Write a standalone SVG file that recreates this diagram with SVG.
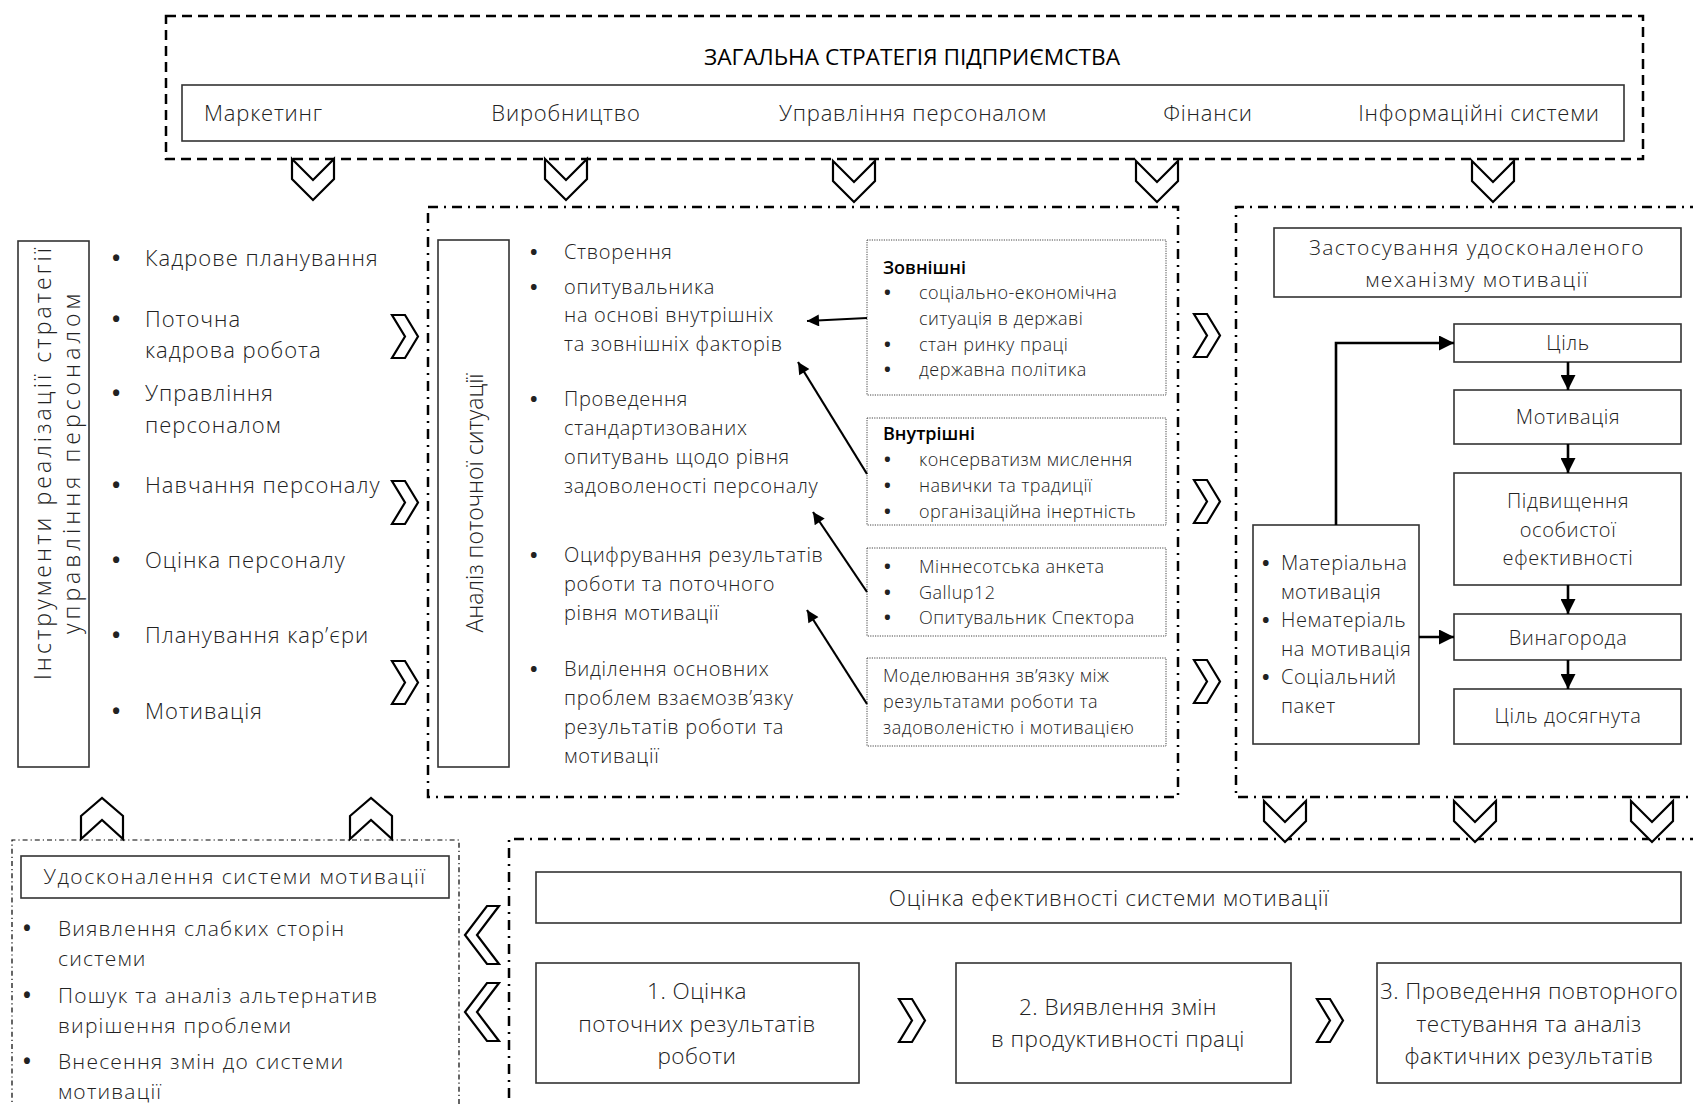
<svg xmlns="http://www.w3.org/2000/svg" width="1693" height="1104" viewBox="0 0 1693 1104">
<defs>
<style>
.f{font-family:"Open Sans","Noto Sans","DejaVu Sans",sans-serif;fill:#222;font-weight:300}
.k{fill:#000;font-weight:400}
.b{font-weight:700;letter-spacing:0}
.s22{font-size:22px}
.s21{font-size:21px}
.s20{font-size:20px}
.s17{font-size:18px}
.m{text-anchor:middle}
.box{fill:#fff;stroke:#333;stroke-width:1.6}
.dash{fill:none;stroke:#000;stroke-width:2.5;stroke-dasharray:10 6}
.dd{fill:none;stroke:#000;stroke-width:2.5;stroke-dasharray:10 6 2 6}
.dd2{fill:none;stroke:#000;stroke-width:1.2;stroke-dasharray:5 3 1.2 3}
.dot{fill:#fff;stroke:#444;stroke-width:1;stroke-dasharray:1.2 1.2}
.chev{fill:#fff;stroke:#000;stroke-width:2.2;stroke-linejoin:miter}
.ln{fill:none;stroke:#000;stroke-width:2.2}
.ln2{fill:none;stroke:#000;stroke-width:2.6}
</style>
<polygon id="cd" points="-21,0 0,21 21,0 21,20 0,41 -21,20"/>
<polygon id="cu" points="-21,18 0,0 21,18 21,41 0,22 -21,41"/>
<polygon id="cr" points="0,0 13,0 26,21.5 13,43 0,43 13,21.5"/>
<polygon id="cl" points="34,0 22,0 0,29 22,58 34,58 12,29"/>
<marker id="ah" viewBox="0 0 10 10" refX="10" refY="5" markerUnits="userSpaceOnUse" markerWidth="14" markerHeight="12" orient="auto">
<path d="M0,0 L10,5 L0,10 z" fill="#000"/>
</marker>
<marker id="ah2" viewBox="0 0 10 10" refX="10" refY="5" markerUnits="userSpaceOnUse" markerWidth="16" markerHeight="15" orient="auto">
<path d="M0,0 L10,5 L0,10 z" fill="#000"/>
</marker>
</defs>
<rect width="1693" height="1104" fill="#fff"/>

<!-- frames -->
<g id="frames">
<rect class="dash" x="166" y="16" width="1477" height="143"/>
<rect class="dd" x="428" y="207" width="750" height="590"/>
<path class="dd" d="M1700,207 H1236 V797 H1700"/>
<path class="dd" d="M1700,839 H509 V1110"/>
<path class="dd2" d="M12,1110 V840 H459 V1110"/>
</g>

<!-- top strategy -->
<g id="strategy">
<text class="f k m" x="912" y="65" font-size="22" textLength="416" lengthAdjust="spacingAndGlyphs">ЗАГАЛЬНА СТРАТЕГІЯ ПІДПРИЄМСТВА</text>
<rect class="box" x="182" y="85" width="1442" height="56"/>
<g class="f s22" style="letter-spacing:0.8px">
<text x="204" y="121">Маркетинг</text>
<text class="m" x="566" y="121">Виробництво</text>
<text class="m" x="913" y="121">Управління персоналом</text>
<text class="m" x="1208" y="121">Фінанси</text>
<text class="m" x="1479" y="121">Інформаційні системи</text>
</g>
</g>

<!-- chevrons -->
<g id="chevrons" class="chev">
<use href="#cd" x="313" y="159"/>
<use href="#cd" x="566" y="159"/>
<use href="#cd" x="854" y="161"/>
<use href="#cd" x="1157" y="161"/>
<use href="#cd" x="1493" y="161"/>
<use href="#cr" x="392" y="315"/>
<use href="#cr" x="392" y="481"/>
<use href="#cr" x="392" y="661"/>
<use href="#cr" x="1194" y="314"/>
<use href="#cr" x="1194" y="480"/>
<use href="#cr" x="1194" y="660"/>
<use href="#cd" x="1285" y="801"/>
<use href="#cd" x="1475" y="801"/>
<use href="#cd" x="1652" y="801"/>
<use href="#cu" x="102" y="798"/>
<use href="#cu" x="371" y="798"/>
<use href="#cl" x="465" y="906"/>
<use href="#cl" x="465" y="983"/>
<use href="#cr" x="899" y="999"/>
<use href="#cr" x="1317" y="999"/>
</g>

<!-- left tools -->
<g id="tools">
<rect class="box" x="18" y="241" width="71" height="526"/>
<text class="f m" font-size="23" transform="translate(42,464) rotate(-90)" dominant-baseline="central" textLength="432" lengthAdjust="spacing">Інструменти реалізації стратегії</text>
<text class="f m" font-size="23" transform="translate(71,464) rotate(-90)" dominant-baseline="central" textLength="340" lengthAdjust="spacing">управління персоналом</text>
<g class="f s22" style="letter-spacing:1px">
<text class="b" x="112" y="266">•</text><text x="145" y="266">Кадрове планування</text>
<text class="b" x="112" y="327">•</text><text x="145" y="327">Поточна</text>
<text x="145" y="358">кадрова робота</text>
<text class="b" x="112" y="401">•</text><text x="145" y="401">Управління</text>
<text x="145" y="433">персоналом</text>
<text class="b" x="112" y="493">•</text><text x="145" y="493">Навчання персоналу</text>
<text class="b" x="112" y="568">•</text><text x="145" y="568">Оцінка персоналу</text>
<text class="b" x="112" y="643">•</text><text x="145" y="643">Планування кар’єри</text>
<text class="b" x="112" y="719">•</text><text x="145" y="719">Мотивація</text>
</g>
</g>

<!-- analysis -->
<g id="analysis">
<rect class="box" x="438" y="240" width="71" height="527"/>
<text class="f m" font-size="23" transform="translate(474,503) rotate(-90)" dominant-baseline="central">Аналіз поточної ситуації</text>
<g class="f s20" style="letter-spacing:0.7px">
<text class="b" x="530" y="259">•</text><text x="564" y="259">Створення</text>
<text class="b" x="530" y="294">•</text><text x="564" y="294">опитувальника</text>
<text x="564" y="322">на основі внутрішніх</text>
<text x="564" y="351">та зовнішніх факторів</text>
<text class="b" x="530" y="406">•</text><text x="564" y="406">Проведення</text>
<text x="564" y="435">стандартизованих</text>
<text x="564" y="464">опитувань щодо рівня</text>
<text x="564" y="493">задоволеності персоналу</text>
<text class="b" x="530" y="562">•</text><text x="564" y="562">Оцифрування результатів</text>
<text x="564" y="591">роботи та поточного</text>
<text x="564" y="620">рівня мотивації</text>
<text class="b" x="530" y="676">•</text><text x="564" y="676">Виділення основних</text>
<text x="564" y="705">проблем взаємозв’язку</text>
<text x="564" y="734">результатів роботи та</text>
<text x="564" y="763">мотивації</text>
</g>
</g>

<g id="factors-ext">
<rect class="dot" x="867" y="240" width="299" height="155"/>
<text class="f k s17" x="883" y="274" style="font-weight:600">Зовнішні</text>
<g class="f s17" style="letter-spacing:0.5px">
<text class="b" x="884" y="299">•</text><text x="919" y="299">соціально-економічна</text>
<text x="919" y="325">ситуація в державі</text>
<text class="b" x="884" y="351">•</text><text x="919" y="351">стан ринку праці</text>
<text class="b" x="884" y="376">•</text><text x="919" y="376">державна політика</text>
</g>
</g>
<g id="factors-int">
<rect class="dot" x="867" y="418" width="299" height="107"/>
<text class="f k s17" x="883" y="440" style="font-weight:600">Внутрішні</text>
<g class="f s17" style="letter-spacing:0.4px">
<text class="b" x="884" y="466">•</text><text x="919" y="466">консерватизм мислення</text>
<text class="b" x="884" y="492">•</text><text x="919" y="492">навички та традиції</text>
<text class="b" x="884" y="518">•</text><text x="919" y="518">організаційна інертність</text>
</g>
</g>
<g id="surveys">
<rect class="dot" x="867" y="548" width="299" height="88"/>
<g class="f s17" style="letter-spacing:0.5px">
<text class="b" x="884" y="573">•</text><text x="919" y="573">Міннесотська анкета</text>
<text class="b" x="884" y="599">•</text><text x="919" y="599">Gallup12</text>
<text class="b" x="884" y="624">•</text><text x="919" y="624">Опитувальник Спектора</text>
</g>
</g>
<g id="modeling">
<rect class="dot" x="867" y="658" width="299" height="88"/>
<g class="f s17" style="letter-spacing:0.55px">
<text x="883" y="682">Моделювання зв’язку між</text>
<text x="883" y="708">результатами роботи та</text>
<text x="883" y="734">задоволеністю і мотивацією</text>
</g>
</g>

<!-- right mechanism -->
<g id="mechanism">
<rect class="box" x="1274" y="228" width="407" height="69"/>
<g class="f s21 m" style="letter-spacing:1.4px">
<text x="1477" y="255">Застосування удосконаленого</text>
<text x="1477" y="287">механізму мотивації</text>
</g>
</g>
<g class="f s20 m" style="letter-spacing:0.6px">
<g id="goal"><rect class="box" x="1454" y="324" width="227" height="38"/><text x="1568" y="350">Ціль</text></g>
<g id="motivation"><rect class="box" x="1454" y="390" width="227" height="54"/><text x="1568" y="424">Мотивація</text></g>
<g id="efficiency"><rect class="box" x="1454" y="473" width="227" height="112"/>
<text x="1568" y="508">Підвищення</text>
<text x="1568" y="537">особистої</text>
<text x="1568" y="565">ефективності</text></g>
<g id="reward"><rect class="box" x="1454" y="614" width="227" height="46"/><text x="1568" y="645">Винагорода</text></g>
<g id="achieved"><rect class="box" x="1454" y="689" width="227" height="55"/><text x="1568" y="723">Ціль досягнута</text></g>
</g>
<g id="types"><rect class="box" x="1253" y="525" width="166" height="219"/>
<g class="f s20" style="letter-spacing:0.6px">
<text class="b" x="1262" y="570">•</text><text x="1281" y="570">Матеріальна</text>
<text x="1281" y="599">мотивація</text>
<text class="b" x="1262" y="627">•</text><text x="1281" y="627">Нематеріаль</text>
<text x="1281" y="656">на мотивація</text>
<text class="b" x="1262" y="684">•</text><text x="1281" y="684">Соціальний</text>
<text x="1281" y="713">пакет</text>
</g></g>

<!-- evaluation -->
<g class="f m" font-size="22.5">
<g id="evaluation"><rect class="box" x="536" y="872" width="1145" height="51"/>
<text x="1109" y="906" style="letter-spacing:0.7px">Оцінка ефективності системи мотивації</text></g>
<g style="letter-spacing:0.45px">
<g id="step1"><rect class="box" x="536" y="963" width="323" height="120"/>
<text x="697" y="999">1. Оцінка</text>
<text x="697" y="1032">поточних результатів</text>
<text x="697" y="1064">роботи</text></g>
<g id="step2"><rect class="box" x="956" y="963" width="335" height="120"/>
<text x="1118" y="1015">2. Виявлення змін</text>
<text x="1118" y="1047">в продуктивності праці</text></g>
<g id="step3"><rect class="box" x="1377" y="963" width="304" height="120"/>
<text x="1529" y="999">3. Проведення повторного</text>
<text x="1529" y="1032">тестування та аналіз</text>
<text x="1529" y="1064">фактичних результатів</text></g>
</g>
</g>

<!-- improvement -->
<g id="improvement"><rect class="box" x="21" y="856" width="428" height="42"/>
<text class="f s21 m" x="235" y="884" style="letter-spacing:1.5px">Удосконалення системи мотивації</text>
<g class="f s21" style="letter-spacing:1.2px">
<text class="b" x="23" y="936">•</text><text x="58" y="936">Виявлення слабких сторін</text>
<text x="58" y="966">системи</text>
<text class="b" x="23" y="1003">•</text><text x="58" y="1003">Пошук та аналіз альтернатив</text>
<text x="58" y="1033">вирішення проблеми</text>
<text class="b" x="23" y="1069">•</text><text x="58" y="1069">Внесення змін до системи</text>
<text x="58" y="1099">мотивації</text>
</g></g>

<!-- connectors -->
<g id="connectors">
<line class="ln" x1="867" y1="318" x2="807" y2="321" marker-end="url(#ah)"/>
<line class="ln" x1="867" y1="474" x2="798" y2="362" marker-end="url(#ah)"/>
<line class="ln" x1="867" y1="592" x2="813" y2="512" marker-end="url(#ah)"/>
<line class="ln" x1="867" y1="704" x2="807" y2="610" marker-end="url(#ah)"/>
<path class="ln2" d="M1336,525 V343 H1454" marker-end="url(#ah2)"/>
<line class="ln2" x1="1419" y1="637" x2="1454" y2="637" marker-end="url(#ah2)"/>
<line class="ln2" x1="1568" y1="362" x2="1568" y2="390" marker-end="url(#ah2)"/>
<line class="ln2" x1="1568" y1="444" x2="1568" y2="473" marker-end="url(#ah2)"/>
<line class="ln2" x1="1568" y1="585" x2="1568" y2="614" marker-end="url(#ah2)"/>
<line class="ln2" x1="1568" y1="660" x2="1568" y2="689" marker-end="url(#ah2)"/>
</g>
</svg>
